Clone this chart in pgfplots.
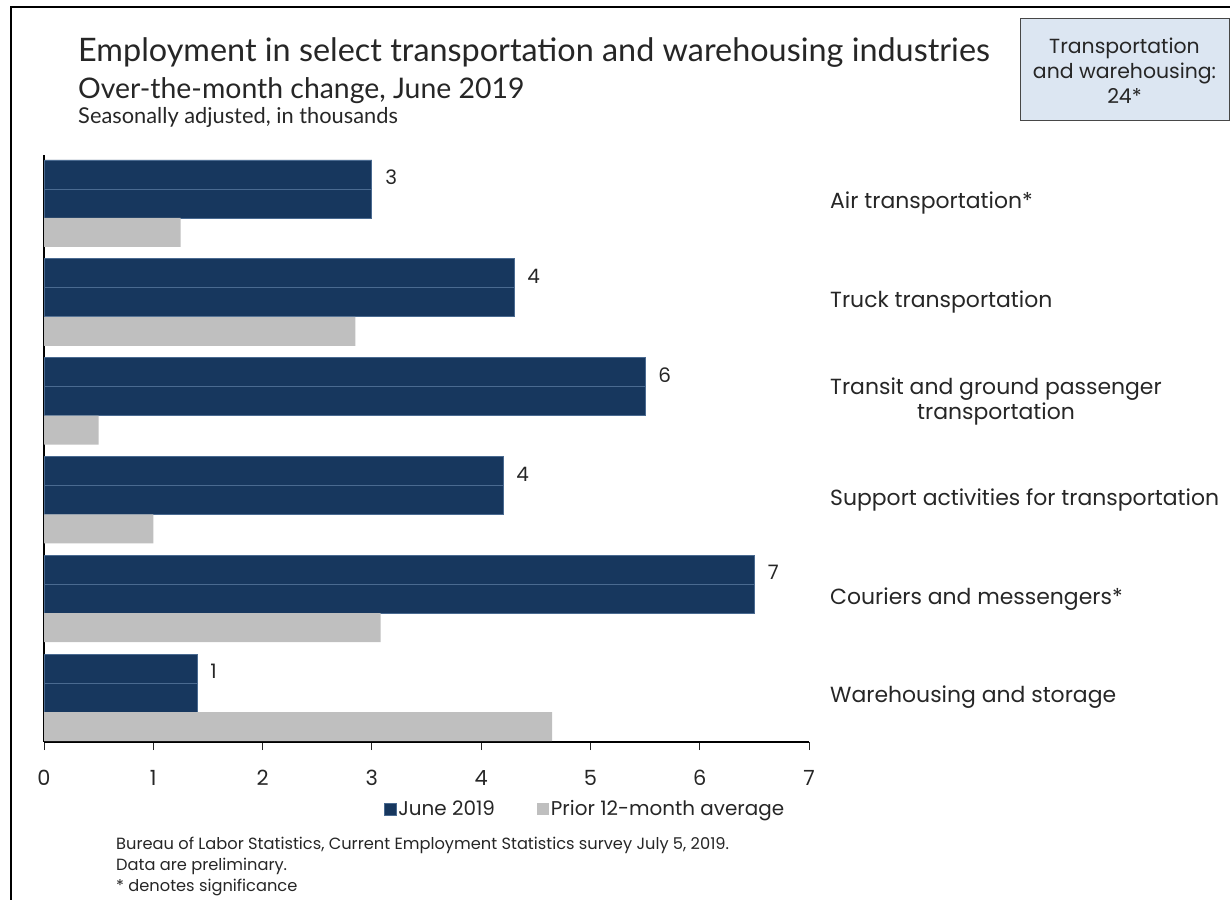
\documentclass[border=0pt]{standalone}
\usepackage{fontspec}
\setmainfont{Poppins}
\newfontfamily\titlefont{Lato}
\usepackage{pgfplots}
\pgfplotsset{compat=1.18}
\definecolor{navy}{HTML}{17375E}
\definecolor{barline}{HTML}{4A6A90}
\definecolor{avggray}{HTML}{BFBFBF}
\definecolor{boxfill}{HTML}{DCE6F2}
\definecolor{txt}{HTML}{262626}
\newcommand\fs[2]{\fontsize{#1}{#2}\selectfont}

\begin{document}
\begin{tikzpicture}
\begin{scope}[x=1bp,y=-1bp]
  \path[use as bounding box] (0,0) rectangle (1230,900);
  \draw[line width=2bp] (11,900) -- (11,7) -- (1230,7);
  % titles
  \node[anchor=base west, inner sep=0, text=txt, font=\titlefont\fs{32.5}{32}] at (78,61)
    {Employment in select transportation and warehousing industries};
  \node[anchor=base west, inner sep=0, text=txt, font=\titlefont\fs{28.5}{28}] at (78,98)
    {Over-the-month change, June 2019};
  \node[anchor=base west, inner sep=0, text=txt, font=\titlefont\fs{21.9}{22}] at (78,123)
    {Seasonally adjusted, in thousands};
  % total box
  \draw[draw=txt!85, fill=boxfill, line width=1bp] (1020,18) rectangle (1229,120);
  \node[align=center, text=txt, font=\fs{20.5}{25}] at (1124.5,71)
    {Transportation\\and warehousing:\\24*};
  % notes
  \begin{scope}[every node/.style={anchor=base west, inner sep=0, text=txt, font=\fs{16.3}{16}}]
    \node at (116,849) {Bureau of Labor Statistics, Current Employment Statistics survey July 5, 2019.};
    \node at (116,870) {Data are preliminary.};
    \node at (116,891) {* denotes significance};
  \end{scope}
\end{scope}

\begin{axis}[
  at={(44bp,-742bp)}, anchor=south west,
  scale only axis, width=765bp, height=587bp,
  xmin=0, xmax=7, ymin=-0.49, ymax=5.45, y dir=reverse,
  xbar, bar width=0.2935,
  axis x line*=bottom, axis y line*=left,
  axis line style={line width=1.2bp, color=black},
  xtick={0,...,7}, ytick=\empty,
  tick align=outside, major tick length=8bp,
  tick style={line width=1bp, color=txt},
  /pgf/number format/assume math mode=true,
  xticklabel style={font=\fs{21}{21}, text=txt, yshift=-17bp},
  clip=false,
  legend columns=2,
  legend style={at={(0.707,0)}, anchor=center, yshift=-67bp, draw=none, fill=none,
    font=\fs{20}{20}, text=txt, inner sep=0pt,
    /tikz/every even column/.append style={column sep=40bp}},
  legend image code/.code={\fill[#1] (0bp,-6bp) rectangle (12bp,6bp);},
]
\addplot[fill=navy, draw=barline, line width=0.8bp, bar shift=-0.2935,
  nodes near coords, point meta=explicit symbolic,
  every node near coord/.style={anchor=west, inner sep=0pt, xshift=13bp, yshift=26bp,
    font=\fs{20}{20}, text=txt}]
  coordinates {(3.0,0) [3] (4.3,1) [4] (5.5,2) [6] (4.2,3) [4] (6.5,4) [7] (1.4,5) [1]};
\addlegendentry{June 2019}
\addplot[fill=navy, draw=barline, line width=0.8bp, bar shift=0, forget plot]
  coordinates {(3.0,0) (4.3,1) (5.5,2) (4.2,3) (6.5,4) (1.4,5)};
\addplot[fill=avggray, draw=none, bar shift=0.2935]
  coordinates {(1.25,0) (2.85,1) (0.5,2) (1.0,3) (3.08,4) (4.65,5)};
\addlegendentry{Prior 12-month average}

\begin{scope}[every node/.style={anchor=west, align=center, inner sep=0pt, text=txt,
    font=\fs{22}{25}, xshift=21bp}]
  \node at (axis cs:7,0) {Air transportation*};
  \node at (axis cs:7,1) {Truck transportation};
  \node at (axis cs:7,2) {Transit and ground passenger\\transportation};
  \node at (axis cs:7,3) {Support activities for transportation};
  \node at (axis cs:7,4) {Couriers and messengers*};
  \node at (axis cs:7,5) {Warehousing and storage};
\end{scope}
\end{axis}
\end{tikzpicture}
\end{document}
